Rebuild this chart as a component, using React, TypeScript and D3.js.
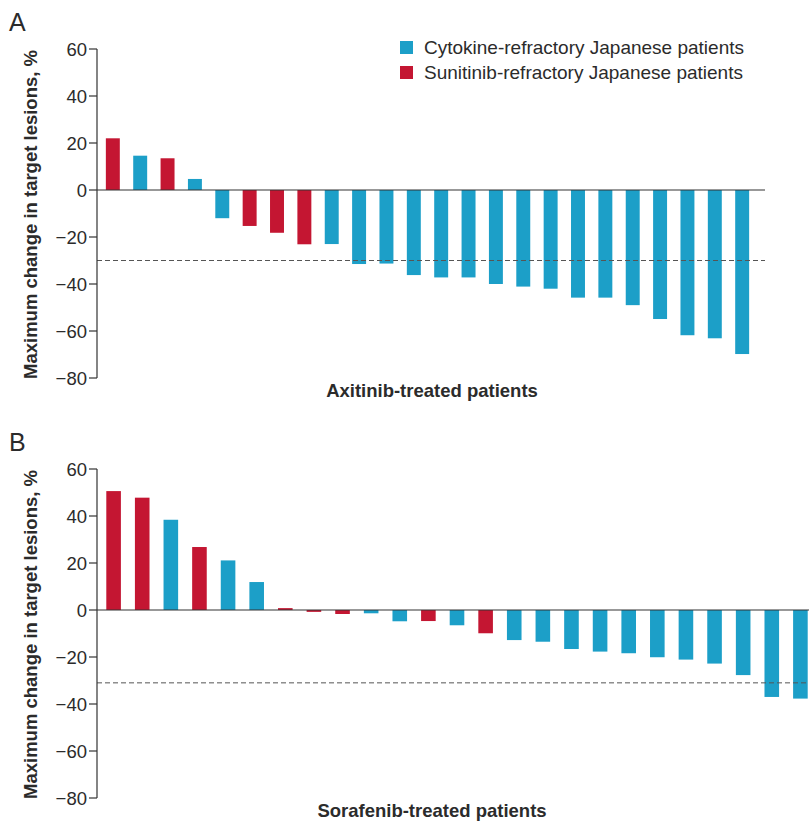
import React from 'react';
import * as d3 from 'd3';

// Panel A: axitinib
const axitinibValues = [22, 14.6, 13.5, 4.7, -12, -15.3, -18.2, -23.1, -23, -31.5, -31.3, -36.2, -37.2, -37.2, -40, -41.1, -42, -45.8, -45.8, -49, -54.9, -61.8, -63.1, -69.8];
const axitinibGroups = ['S', 'C', 'S', 'C', 'C', 'S', 'S', 'S', 'C', 'C', 'C', 'C', 'C', 'C', 'C', 'C', 'C', 'C', 'C', 'C', 'C', 'C', 'C', 'C'];

// Panel B: sorafenib
const sorafenibValues = [50.6, 47.8, 38.4, 26.8, 21.1, 11.9, 0.8, -0.8, -1.7, -1.4, -4.8, -4.7, -6.5, -9.9, -12.8, -13.5, -16.6, -17.7, -18.4, -20.1, -21.1, -22.8, -27.7, -37, -37.7];
const sorafenibGroups = ['S', 'S', 'C', 'S', 'C', 'C', 'S', 'S', 'S', 'C', 'C', 'S', 'C', 'S', 'C', 'C', 'C', 'C', 'C', 'C', 'C', 'C', 'C', 'C', 'C'];

const yTicks = [60, 40, 20, 0, -20, -40, -60, -80];
const legendLabels = ['Cytokine-refractory Japanese patients', 'Sunitinib-refractory Japanese patients'];
const colors: Record<string, string> = { C: '#1c9fc8', S: '#c41632' };

const font = '"Liberation Sans", Arial, Helvetica, sans-serif';
const textColor = '#2b2b2b';

type PanelProps = {
  top: number;
  letter: string;
  values: number[];
  groups: string[];
  threshold: number;
  xLabel: string;
  bandRange: [number, number];
  lineEnd: number;
};

const Panel = ({ top, letter, values, groups, threshold, xLabel, bandRange, lineEnd }: PanelProps) => {
  const axisX = 97;
  const y = d3.scaleLinear().domain([-80, 60]).range([top + 329, top]);
  const x = d3.scaleBand<number>()
    .domain(values.map((_, i) => i))
    .range(bandRange)
    .paddingInner(0.49)
    .paddingOuter(0.36);

  return (
    <g>
      <text x={9} y={top - 18} fontSize={25} fill={textColor} fontFamily={font}>{letter}</text>

      {/* bars */}
      {values.map((v, i) => (
        <rect
          key={i}
          x={x(i)}
          y={y(Math.max(0, v))}
          width={x.bandwidth()}
          height={Math.abs(y(v) - y(0))}
          fill={colors[groups[i]]}
        />
      ))}

      {/* zero line */}
      <line x1={axisX} x2={lineEnd} y1={y(0)} y2={y(0)} stroke="#333" strokeWidth={1.2} />

      {/* -30% threshold */}
      <line x1={axisX} x2={lineEnd} y1={y(threshold)} y2={y(threshold)} stroke="#555" strokeWidth={1} strokeDasharray="5,3" />

      {/* y axis */}
      <line x1={axisX} x2={axisX} y1={y(60)} y2={y(-80)} stroke="#333" strokeWidth={1.2} />
      {yTicks.map(t => (
        <g key={t}>
          <line x1={axisX - 8} x2={axisX} y1={y(t)} y2={y(t)} stroke="#333" strokeWidth={1.2} />
          <text x={axisX - 10} y={y(t)} dy="0.36em" textAnchor="end" fontSize={18.5} fill={textColor} fontFamily={font}>
            {t < 0 ? `\u2212${Math.abs(t)}` : t}
          </text>
        </g>
      ))}

      <text
        transform={`translate(37,${(y(60) + y(-80)) / 2 + 1}) rotate(-90)`}
        textAnchor="middle"
        fontSize={18.5}
        fontWeight="bold"
        fill={textColor}
        fontFamily={font}
      >
        Maximum change in target lesions, %
      </text>

      <text x={432} y={top + 348} textAnchor="middle" fontSize={18.5} fontWeight="bold" fill={textColor} fontFamily={font}>
        {xLabel}
      </text>
    </g>
  );
};

const App = () => {
  return (
    <svg
      width={809}
      height={822}
      style={{ position: 'absolute', left: 0, top: 0, background: '#fff' }}
    >
      <rect width={809} height={822} fill="#fff" />
      <Panel
        top={49}
        letter="A"
        values={axitinibValues}
        groups={axitinibGroups}
        threshold={-30}
        xLabel="Axitinib-treated patients"
        bandRange={[96, 759]}
        lineEnd={765}
      />
      <Panel
        top={469}
        letter="B"
        values={sorafenibValues}
        groups={sorafenibGroups}
        threshold={-31}
        xLabel="Sorafenib-treated patients"
        bandRange={[96, 818]}
        lineEnd={809}
      />

      {/* legend */}
      {legendLabels.map((label, i) => (
        <g key={label} transform={`translate(400,${41 + i * 25})`}>
          <rect width={13} height={13} fill={colors[i === 0 ? 'C' : 'S']} />
          <text x={24} y={6.5} dy="0.36em" fontSize={19} fill={textColor} fontFamily={font}>{label}</text>
        </g>
      ))}
    </svg>
  );
};

export default App;
